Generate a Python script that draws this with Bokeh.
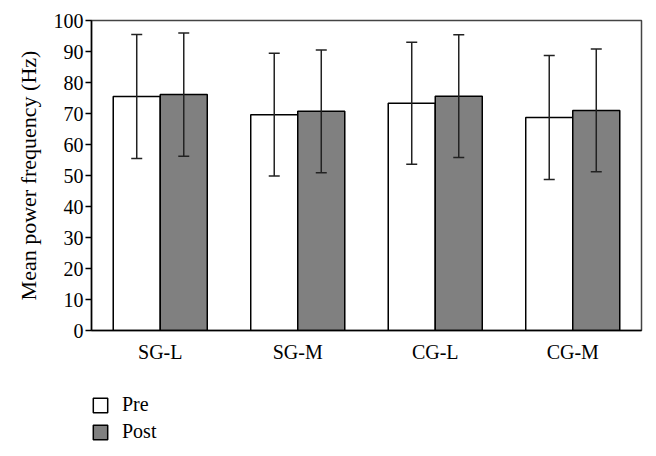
from bokeh.plotting import figure
from bokeh.models import ColumnDataSource, Whisker, Legend, LegendItem, FixedTicker, Range1d, FactorRange
from bokeh.layouts import column
from bokeh.transform import dodge
from bokeh.embed import file_html
from bokeh.resources import INLINE

categories = ["SG-L", "SG-M", "CG-L", "CG-M"]
pre_mean = [75.5, 69.6, 73.3, 68.7]
pre_sd = [20.0, 19.8, 19.7, 20.0]
post_mean = [76.1, 70.7, 75.6, 71.0]
post_sd = [19.9, 19.8, 19.8, 19.8]
y_ticks = [0, 10, 20, 30, 40, 50, 60, 70, 80, 90, 100]
series_labels = ["Pre", "Post"]

FONT = "Liberation Serif"
PRE_FILL = "white"
POST_FILL = "#808080"

src = ColumnDataSource(dict(
    cat=categories,
    pre=pre_mean,
    post=post_mean,
    pre_lo=[m - s for m, s in zip(pre_mean, pre_sd)],
    pre_hi=[m + s for m, s in zip(pre_mean, pre_sd)],
    post_lo=[m - s for m, s in zip(post_mean, post_sd)],
    post_hi=[m + s for m, s in zip(post_mean, post_sd)],
))

p = figure(x_range=categories, y_range=(0, 100), width=648, height=365,
           output_backend="svg", toolbar_location=None,
           min_border_left=91, min_border_right=7, min_border_top=20, min_border_bottom=35)

bw = 0.342
off = 0.171
p.vbar(x=dodge("cat", -off, range=p.x_range), top="pre", width=bw, bottom=0,
       source=src, fill_color=PRE_FILL, line_color="black", line_width=1.5)
p.vbar(x=dodge("cat", off, range=p.x_range), top="post", width=bw, bottom=0,
       source=src, fill_color=POST_FILL, line_color="black", line_width=1.5)

for key, o in (("pre", -off), ("post", off)):
    w = Whisker(base=dodge("cat", o, range=p.x_range), lower=key + "_lo", upper=key + "_hi",
                source=src, line_color="#222222", line_width=1.5, level="overlay")
    w.upper_head.size = 11
    w.lower_head.size = 11
    w.upper_head.line_width = 1.5
    w.lower_head.line_width = 1.5
    w.upper_head.line_color = "#222222"
    w.lower_head.line_color = "#222222"
    p.add_layout(w)

p.xgrid.grid_line_color = None
p.ygrid.grid_line_color = None
p.x_range.range_padding = 0

p.yaxis.ticker = FixedTicker(ticks=y_ticks)
p.yaxis.minor_tick_line_color = None
p.yaxis.major_tick_out = 6
p.yaxis.major_tick_in = 0
p.yaxis.major_label_standoff = 2
p.yaxis.axis_label = "Mean power frequency (Hz)"
p.yaxis.axis_label_text_font = FONT
p.yaxis.axis_label_text_font_style = "normal"
p.yaxis.axis_label_text_font_size = "22px"
p.yaxis.axis_label_text_color = "black"
p.yaxis.axis_label_standoff = 10

p.xaxis.major_label_standoff = 10
p.xaxis.minor_tick_line_color = None
p.xaxis.major_tick_out = 0
p.xaxis.major_tick_in = 0

for ax in (p.xaxis, p.yaxis):
    ax.major_label_text_font = FONT
    ax.major_label_text_font_size = "20px"
    ax.major_label_text_color = "black"
    ax.axis_line_color = "black"
    ax.axis_line_width = 1.5
    ax.major_tick_line_width = 1.5
p.yaxis.major_tick_line_color = "black"
p.xaxis.major_tick_line_color = None

p.outline_line_color = "#444444"
p.outline_line_width = 1.5

# legend panel below the chart (its bars are hidden, so only the legend shows)
lg = figure(width=648, height=90, output_backend="svg", toolbar_location=None,
            x_range=FactorRange(*categories), y_range=Range1d(1000, 1001),
            min_border_left=90, min_border_right=0, min_border_top=28, min_border_bottom=0)
lg.axis.visible = False
lg.grid.grid_line_color = None
lg.outline_line_color = None
r1 = lg.vbar(x=dodge("cat", -off, range=lg.x_range), top="pre", width=bw, bottom=0, source=src,
             fill_color=PRE_FILL, line_color="black", line_width=1.5, visible=False)
r2 = lg.vbar(x=dodge("cat", off, range=lg.x_range), top="post", width=bw, bottom=0, source=src,
             fill_color=POST_FILL, line_color="black", line_width=1.5, visible=False)
legend = Legend(items=[LegendItem(label=series_labels[0], renderers=[r1]),
                       LegendItem(label=series_labels[1], renderers=[r2])],
                location="top_left", orientation="vertical", click_policy="none",
                glyph_width=18, glyph_height=18, spacing=4, label_standoff=13,
                padding=0, margin=0, border_line_color=None, background_fill_alpha=0,
                inactive_fill_alpha=0,
                label_text_font=FONT, label_text_font_size="20px", label_height=18,
                label_text_color="black")
lg.add_layout(legend, "center")

layout = column(p, lg, spacing=0)
open("out.html", "w").write(file_html(layout, INLINE))
